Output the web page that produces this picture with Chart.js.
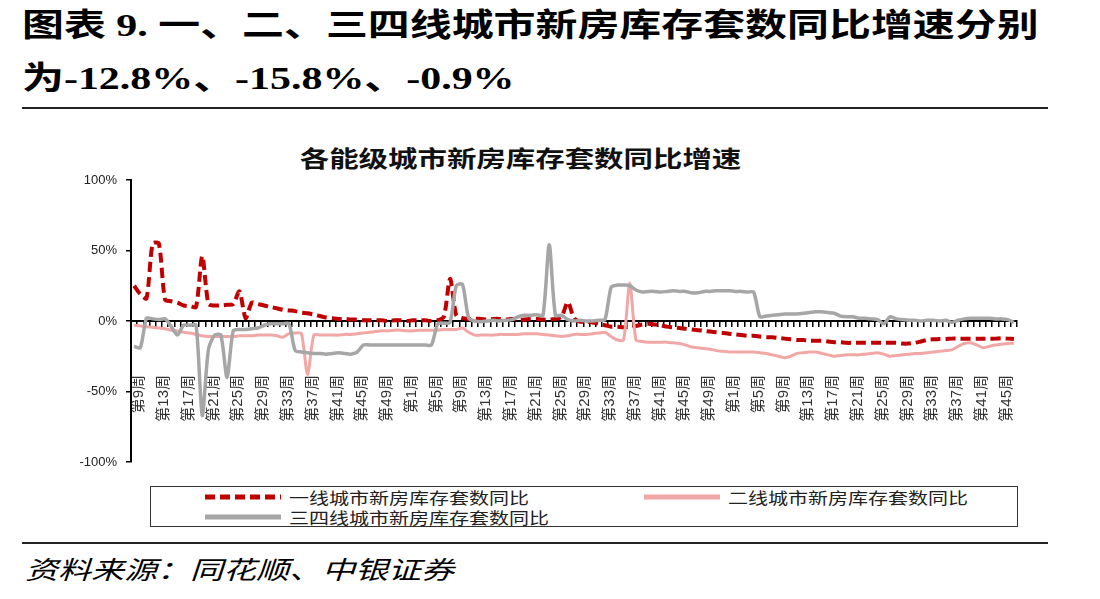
<!DOCTYPE html>
<html>
<head>
<meta charset="utf-8">
<script src="https://cdn.jsdelivr.net/npm/chart.js@4.4.0/dist/chart.umd.min.js"></script>
<style>
  body { margin: 0; width: 1100px; height: 599px; background: #fff; position: relative; overflow: hidden;
         font-family: "Liberation Serif", "Noto Sans CJK SC", serif; color: #000; }
  .wide { display: inline-block; transform: scaleX(1.31); transform-origin: 0 50%; white-space: nowrap; }
  #head { position: absolute; left: 22px; top: -1px; font-weight: bold; font-size: 32px; line-height: 53px; }
  #head div { white-space: nowrap; }
  .rule { position: absolute; left: 22px; width: 1026px; background: #222; }
  #ctitle { position: absolute; left: 0; width: 1040px; top: 140px; text-align: center;
            font-family: "Noto Sans CJK SC"; font-weight: bold; font-size: 23px; line-height: 34px; color: #111; }
  #ctitle span { display: inline-block; transform: scaleX(1.28); transform-origin: 50% 50%; }
  #wrap { position: absolute; left: 0; top: 170px; width: 1040px; height: 315px; }
  #legend { position: absolute; left: 150px; top: 486px; width: 868px; height: 41px; border: 1px solid #333; box-sizing: border-box; }
  .item { position: absolute; display: flex; align-items: center; height: 20px;
          font-family: "Noto Sans CJK SC"; font-size: 16px; color: #222; }
  .item svg { margin-right: 8px; }
  #src { position: absolute; left: 25px; top: 549px; font-family: "Noto Sans CJK SC"; font-style: italic;
         font-size: 25px; line-height: 38px; }
</style>
</head>
<body>
<div id="head">
  <div><span class="wide">图表 9. 一、二、三四线城市新房库存套数同比增速分别</span></div>
  <div><span class="wide">为-12.8%、-15.8%、-0.9%</span></div>
</div>
<div class="rule" style="top:107px;height:2px"></div>
<div id="ctitle"><span>各能级城市新房库存套数同比增速</span></div>
<div id="wrap"><canvas id="c"></canvas></div>
<div id="legend"></div>
<div class="rule" style="top:542px;height:1.5px"></div>
<div id="src"><span class="wide" style="transform:scaleX(1.32)">资料来源：同花顺、中银证券</span></div>

<script>
// 周度标签：第9周 ... 第52周，第1周 ... 第52周，第1周 ... 第47周
var weekSpans = [[9, 52], [1, 52], [1, 47]];
var weeks = [];
weekSpans.forEach(function (s) {
  for (var w = s[0]; w <= s[1]; w++) weeks.push('第' + w + '周');
});

var seriesNames = ['一线城市新房库存套数同比', '二线城市新房库存套数同比', '三四线城市新房库存套数同比'];

// 一线
var tier1 = [
  25, 19, 16, 55, 55, 15, 14, 13, 11, 10.5,
  10, 46, 12, 11, 11, 11.5, 12, 21, 2, 13,
  12, 11, 10, 9, 8, 7.5, 7, 6, 5.5, 4.5,
  3.5, 2.5, 2, 1.5, 1.5, 1, 1, 0.5, 0.5, 0.5,
  0.5, 0, 0.5, 0.5, 0, 0.5, 0.5, 0.5, 0, 0.5,
  3, 30, 4, 2, 1.5, 1.5, 1.5, 1, 1.5, 1.5,
  1, 1.5, 1, 1, 1.5, 1.5, 1, 1, 1.5, 3,
  13.5, 2, -0.5, -0.5, -1, -2, -3, -4, -4, -4.5,
  -4, -3.5, -2.5, -2, -2.5, -3, -4, -4.5, -5, -5.5,
  -6, -6.5, -7, -7.5, -8, -8.5, -9, -9.5, -10, -10.5,
  -10.5, -11, -11.5, -11.5, -12, -12.5, -13, -13.5, -13.5, -14,
  -14, -14, -14.5, -15, -15, -15.5, -15.5, -15.5, -15.5, -15.5,
  -15.5, -15.5, -15.5, -15.5, -16, -16, -15.5, -14.5, -13.5, -13,
  -12.7, -12.7, -12.5, -12.5, -12.5, -12.5, -12.5, -12.5, -12.5, -12.5,
  -12.3, -12.5, -12.8
];

// 二线
var tier2 = [
  -3, -3.5, -4, -4.5, -5, -5.5, -6.5, -7, -8, -8.5,
  -9.5, -10.5, -11, -11, -11, -11, -11, -10.5, -10.5, -10.5,
  -10, -10, -10, -10.5, -11.5, -9, -8.5, -9, -38, -10,
  -10, -10, -10, -10, -9.5, -9.5, -9, -8.5, -8, -7.5,
  -7, -7, -6.5, -6.5, -7, -7, -6.5, -6.5, -6.5, -6.5,
  -6, -6, -6, -5, -8, -10, -10, -10, -10, -9.5,
  -9.5, -9.5, -9.5, -9, -9, -9, -9.5, -10, -10.5, -11,
  -10.5, -9.5, -9.5, -9.5, -9, -8.5, -8, -11, -13.5, -13.5,
  27, -13.5, -14.5, -15, -15, -15, -15, -15.5, -16, -17,
  -18.5, -19, -19.5, -20, -21, -21.5, -22, -22, -22, -22,
  -22, -22.5, -23, -24, -25, -26, -25, -23, -22.5, -22,
  -22, -23, -24, -25, -24.5, -24, -24, -24, -23.5, -23,
  -22.5, -23.5, -25, -24.5, -24, -23.5, -23, -23, -22.5, -22,
  -21.5, -21, -20.5, -18, -16, -15.5, -17, -19, -18, -17,
  -16.5, -16, -15.8
];

// 三四线
var tier3 = [
  -18, -19, 2, 1.5, 1, 1.5, -4, -10, -3, -3,
  -3, -67, -20, -10, -10, -40, -7, -6, -6, -5.5,
  -5, -3, -2, -2, -2, -2, -21, -22, -22.5, -23,
  -23, -23.5, -23, -22.5, -23, -23.5, -22, -17, -17, -17,
  -17, -17, -17, -17, -17, -17, -17, -17, -17, -2,
  -1.5, -1, 25, 26, 2, 0, -0.5, 0, 0.5, 0,
  0.5, 1, 3, 4, 4, 4.5, 4, 54, 4, 4,
  1, 0, 0.5, 0, 0, 0.5, 1, 24, 25.5, 25.5,
  25, 22, 20.5, 21, 21, 20.5, 21, 21.5, 21, 21,
  20, 20, 21, 21, 21.5, 21.5, 21.5, 21, 21, 20.5,
  20.5, 3, 3.5, 4, 4.5, 5, 5, 5, 5.5, 6,
  6.5, 6.5, 6, 5.5, 3.5, 3, 3, 2, 2, 1.5,
  1, -2, 3, 1.5, 1, 0.5, 0.5, 0, 0.5, 0.5,
  0, 0.5, -1, 0.5, 1.5, 2, 2, 2, 2, 1.5,
  1.5, 1, -0.9
];

var yMin = -100, yMax = 100, yStep = 50;

var labelFont = '"Liberation Sans", "Noto Sans CJK SC", sans-serif';

var chart = new Chart(document.getElementById('c'), {
  type: 'line',
  data: {
    labels: weeks,
    datasets: [
      { label: seriesNames[0], data: tier1, borderColor: '#C00000', borderWidth: 4, borderDash: [10, 5], order: 3 },
      { label: seriesNames[1], data: tier2, borderColor: '#F2A7A7', borderWidth: 3, order: 2 },
      { label: seriesNames[2], data: tier3, borderColor: '#A6A6A6', borderWidth: 3.5, order: 1 }
    ]
  },
  options: {
    responsive: true,
    maintainAspectRatio: false,
    animation: false,
    layout: { padding: { top: 10, right: 23, bottom: 23, left: 0 } },
    elements: { point: { radius: 0 }, line: { tension: 0.25, fill: false, borderCapStyle: 'butt' } },
    plugins: { legend: { display: false }, title: { display: false }, tooltip: { enabled: false } },
    scales: {
      x: {
        position: { y: 0 },
        offset: true,
        grid: { drawOnChartArea: false, offset: true, tickLength: 5, color: '#000', lineWidth: 1.5 },
        border: { color: '#000', width: 2 },
        ticks: {
          autoSkip: false, minRotation: 90, maxRotation: 90, padding: 49, labelOffset: 5,
          color: '#333', font: { family: labelFont, size: 15 },
          callback: function (v, i) { return i % 4 === 0 ? this.getLabelForValue(v) : ''; }
        },
        afterFit: function (s) { s.height = 0; s.paddingLeft = 0; s.paddingRight = 0; }
      },
      y: {
        min: yMin, max: yMax,
        ticks: { stepSize: yStep, padding: 9, color: '#222', font: { family: labelFont, size: 13 },
                 callback: function (v) { return v + '%'; } },
        grid: { drawOnChartArea: false, tickLength: 5, color: '#000', lineWidth: 1.5 },
        border: { color: '#000', width: 2 },
        afterFit: function (s) { s.width = 131; s.paddingTop = 0; s.paddingBottom = 0; }
      }
    }
  }
});

// 图例（由数据集生成）
var legendSpots = [[54, 0], [493, 0], [54, 20]];
var legend = document.getElementById('legend');
chart.data.datasets.forEach(function (ds, k) {
  var dash = ds.borderDash ? ds.borderDash.join(' ') : 'none';
  var item = document.createElement('div');
  item.className = 'item';
  item.style.left = legendSpots[k][0] + 'px';
  item.style.top = legendSpots[k][1] + 'px';
  item.innerHTML = '<svg width="76" height="10"><line x1="0" y1="5" x2="76" y2="5" stroke="' + ds.borderColor +
    '" stroke-width="5" stroke-dasharray="' + dash + '"/></svg><span class="wide" style="transform:scaleX(1.25)">' +
    ds.label + '</span>';
  legend.appendChild(item);
});
</script>
</body>
</html>
